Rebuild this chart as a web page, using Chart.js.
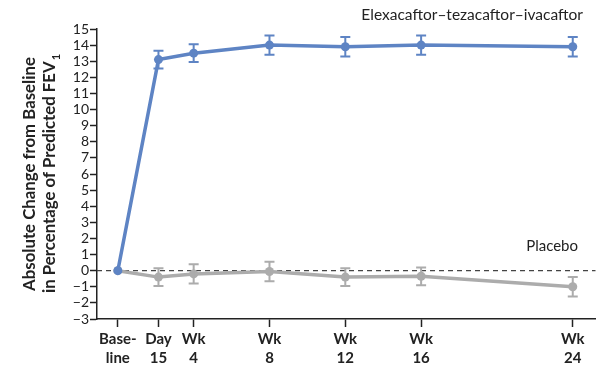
<!DOCTYPE html>
<html>
<head>
<meta charset="utf-8">
<script src="https://cdn.jsdelivr.net/npm/chart.js@4/dist/chart.umd.min.js"></script>
<style>
  html, body { margin: 0; padding: 0; background: #fff; }
  #wrap { width: 600px; height: 368px; }
</style>
</head>
<body>
<div id="wrap"><canvas id="c" width="600" height="368"></canvas></div>
<script>
// --- data -------------------------------------------------------------
var weeks = [0, 15 / 7, 4, 8, 12, 16, 24]; // visit times, in weeks
var visitLabels = [["Base-", "line"], ["Day", "15"], ["Wk", "4"], ["Wk", "8"], ["Wk", "12"], ["Wk", "16"], ["Wk", "24"]];
var etiMean = [0, 13.1, 13.5, 14.0, 13.9, 14.0, 13.9];
var etiErr = [0, 0.55, 0.55, 0.6, 0.6, 0.6, 0.6];
var placeboMean = [0, -0.4, -0.2, -0.05, -0.4, -0.35, -1.0];
var placeboErr = [0, 0.55, 0.6, 0.6, 0.55, 0.55, 0.6];
var yTicks = [-3, -2, -1, 0, 1, 2, 3, 4, 5, 6, 7, 8, 9, 10, 11, 12, 13, 14, 15];

var BLUE = "#5e84c4";
var GREY = "#acacac";
var INK = "#222";
var FONT = "Lato, 'Open Sans', sans-serif";

function toPoints(means, errs) {
    return weeks.map(function (w, i) {
        return {x: w, y: means[i], err: errs[i]};
    });
}

// error bars + zero reference line + the annotation texts
var extrasPlugin = {
    id: "extras",
    beforeDatasetsDraw: function (chart) {
        var ctx = chart.ctx;
        var xs = chart.scales.x, ys = chart.scales.y;
        var y0 = ys.getPixelForValue(0);
        ctx.save();
        ctx.strokeStyle = "#444";
        ctx.lineWidth = 1.2;
        ctx.setLineDash([5, 4]);
        ctx.beginPath();
        ctx.moveTo(xs.left, y0);
        ctx.lineTo(xs.right, y0);
        ctx.stroke();
        ctx.restore();
    },
    afterDatasetsDraw: function (chart) {
        var ctx = chart.ctx;
        var xs = chart.scales.x, ys = chart.scales.y;
        ctx.save();
        chart.data.datasets.forEach(function (ds) {
            ctx.strokeStyle = ds.borderColor;
            ctx.lineWidth = 2;
            ds.data.forEach(function (p) {
                if (!p.err) return;
                var px = xs.getPixelForValue(p.x);
                var top = ys.getPixelForValue(p.y + p.err);
                var bot = ys.getPixelForValue(p.y - p.err);
                ctx.beginPath();
                ctx.moveTo(px, top); ctx.lineTo(px, bot);
                ctx.moveTo(px - 5, top); ctx.lineTo(px + 5, top);
                ctx.moveTo(px - 5, bot); ctx.lineTo(px + 5, bot);
                ctx.stroke();
            });
        });

        // series labels
        ctx.fillStyle = INK;
        ctx.textAlign = "right";
        ctx.textBaseline = "middle";
        ctx.font = "15.5px " + FONT;
        ctx.fillText("Elexacaftor\u2013tezacaftor\u2013ivacaftor", 583, 15);
        ctx.font = "15px " + FONT;
        ctx.fillText("Placebo", 578, 246);

        // y-axis title, two lines, with subscript 1
        ctx.translate(0, (ys.top + ys.bottom) / 2);
        ctx.rotate(-Math.PI / 2);
        ctx.textAlign = "center";
        ctx.textBaseline = "middle";
        ctx.font = "bold 16.8px " + FONT;
        ctx.fillText("Absolute Change from Baseline", 0, 30);
        var line2 = "in Percentage of Predicted FEV";
        var w2 = ctx.measureText(line2).width;
        ctx.font = "bold 11px " + FONT;
        var wSub = ctx.measureText("1").width;
        ctx.font = "bold 16.8px " + FONT;
        ctx.textAlign = "left";
        var start = -(w2 + wSub) / 2;
        ctx.fillText(line2, start, 50);
        ctx.font = "bold 11px " + FONT;
        ctx.fillText("1", start + w2 + 1, 56);
        ctx.restore();
    }
};

var chart = new Chart(document.getElementById("c"), {
    type: "line",
    data: {
        datasets: [
            {
                label: "Placebo",
                data: toPoints(placeboMean, placeboErr),
                borderColor: GREY,
                backgroundColor: GREY,
                borderWidth: 3.5,
                pointRadius: 4.5,
                pointBorderWidth: 0,
                tension: 0,
                order: 2
            },
            {
                label: "Elexacaftor\u2013tezacaftor\u2013ivacaftor",
                data: toPoints(etiMean, etiErr),
                borderColor: BLUE,
                backgroundColor: BLUE,
                borderWidth: 3.5,
                pointRadius: 4.5,
                pointBorderWidth: 0,
                tension: 0,
                order: 1
            }
        ]
    },
    options: {
        responsive: false,
        animation: false,
        devicePixelRatio: 1,
        layout: {padding: {top: 29, right: 3, left: 0, bottom: 0}},
        plugins: {legend: {display: false}, tooltip: {enabled: false}},
        scales: {
            x: {
                type: "linear",
                min: -1.1,
                max: 25.2,
                afterBuildTicks: function (axis) {
                    axis.ticks = weeks.map(function (w) { return {value: w}; });
                },
                afterFit: function (axis) { axis.height = 49; },
                ticks: {
                    autoSkip: false,
                    maxRotation: 0,
                    color: INK,
                    padding: 2,
                    font: {family: FONT, size: 15, weight: "bold", lineHeight: 1.3},
                    callback: function (v, i) { return visitLabels[i]; }
                },
                grid: {drawOnChartArea: false, tickLength: 8, tickColor: INK, tickWidth: 1.5},
                border: {color: INK, width: 1.5}
            },
            y: {
                min: -3,
                max: 15,
                afterBuildTicks: function (axis) {
                    axis.ticks = yTicks.map(function (v) { return {value: v}; });
                },
                afterFit: function (axis) { axis.width = 97; },
                ticks: {
                    autoSkip: false,
                    color: INK,
                    padding: 1,
                    font: {family: FONT, size: 14},
                    callback: function (v) { return v < 0 ? "\u2212" + Math.abs(v) : String(v); }
                },
                grid: {drawOnChartArea: false, tickLength: 7, tickColor: INK, tickWidth: 1.5},
                border: {color: INK, width: 1.5}
            }
        }
    },
    plugins: [extrasPlugin]
});
</script>
</body>
</html>
